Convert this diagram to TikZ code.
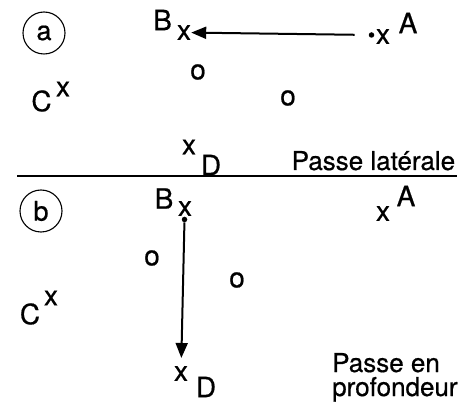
\documentclass[tikz,border=0pt]{standalone}
\usepackage{fontspec}
\setmainfont[FakeBold=0.6]{TeX Gyre Heros}
\usetikzlibrary{arrows.meta,positioning}
\tikzset{
  lbl/.style={font=\fontsize{28}{30}\selectfont, inner sep=0pt},
  spot/.style={lbl},
  panel/.style={circle, draw, line width=1.1pt, minimum size=42pt, inner sep=0pt,
                font=\fontsize{27}{29}\selectfont},
  ball/.style={circle, fill, inner sep=0pt, minimum size=5.5pt},
  pass/.style={-{Triangle[length=15pt,width=12pt]}, line width=2pt},
  sep/.style={line width=1.2pt},
  caption/.style={font=\fontsize{26}{26}\selectfont, inner sep=0pt, anchor=base west},
}

\begin{document}
\begin{tikzpicture}[x=1pt,y=-1pt]
  \useasboundingbox (0,0) rectangle (463,403);
  % (a) lateral pass
  \node[panel] (pa) at (44,33) {a};
  \node[lbl] (Bla) at (162.5,20) {B};  \node[spot] (Bxa) at (184,32.5) {x};
  \node[ball] (ba) at (371.5,35) {};   \node[spot] (Axa) at (383,36.5) {x};
  \node[lbl] (Ala) at (408,23) {A};
  \node[spot] (oa1) at (198,72) {o};   \node[spot] (oa2) at (288,98) {o};
  \node[lbl] (Cla) at (41.5,101) {C};  \node[spot] (Cxa) at (63,89) {x};
  \node[spot] (Dxa) at (189,147) {x};  \node[lbl] (Dla) at (211,165) {D};
  \node[caption] (capa) at (291.5,170) {Passe latérale};
  \draw[pass, shorten <=14pt] (ba) -- (Bxa);
  \coordinate (sepL) at (17,176); \coordinate (sepR) at (457,176);
  \draw[sep] (sepL) -- (sepR);
  % (b) pass in depth
  \node[panel] (pb) at (41,211) {b};
  \node[lbl] (Blb) at (164,198.5) {B}; \node[spot] (Bxb) at (185,208.5) {x};
  \node[ball] (bb) at (184.5,219.5) {};
  \node[spot] (Axb) at (383,213.5) {x}; \node[lbl] (Alb) at (406,196) {A};
  \node[spot] (ob1) at (152,258) {o};  \node[spot] (ob2) at (237,280) {o};
  \node[lbl] (Clb) at (30,314) {C};    \node[spot] (Cxb) at (51,298) {x};
  \node[spot] (Dxb) at (181,373.5) {x}; \node[lbl] (Dlb) at (206,387) {D};
  \node[caption] (capb1) at (332,372) {Passe en};
  \node[caption] (capb2) at ([yshift=-24pt]capb1.base west) {profondeur};
  \draw[pass, shorten >=8pt] (bb) -- (Dxb);
\end{tikzpicture}
\end{document}
